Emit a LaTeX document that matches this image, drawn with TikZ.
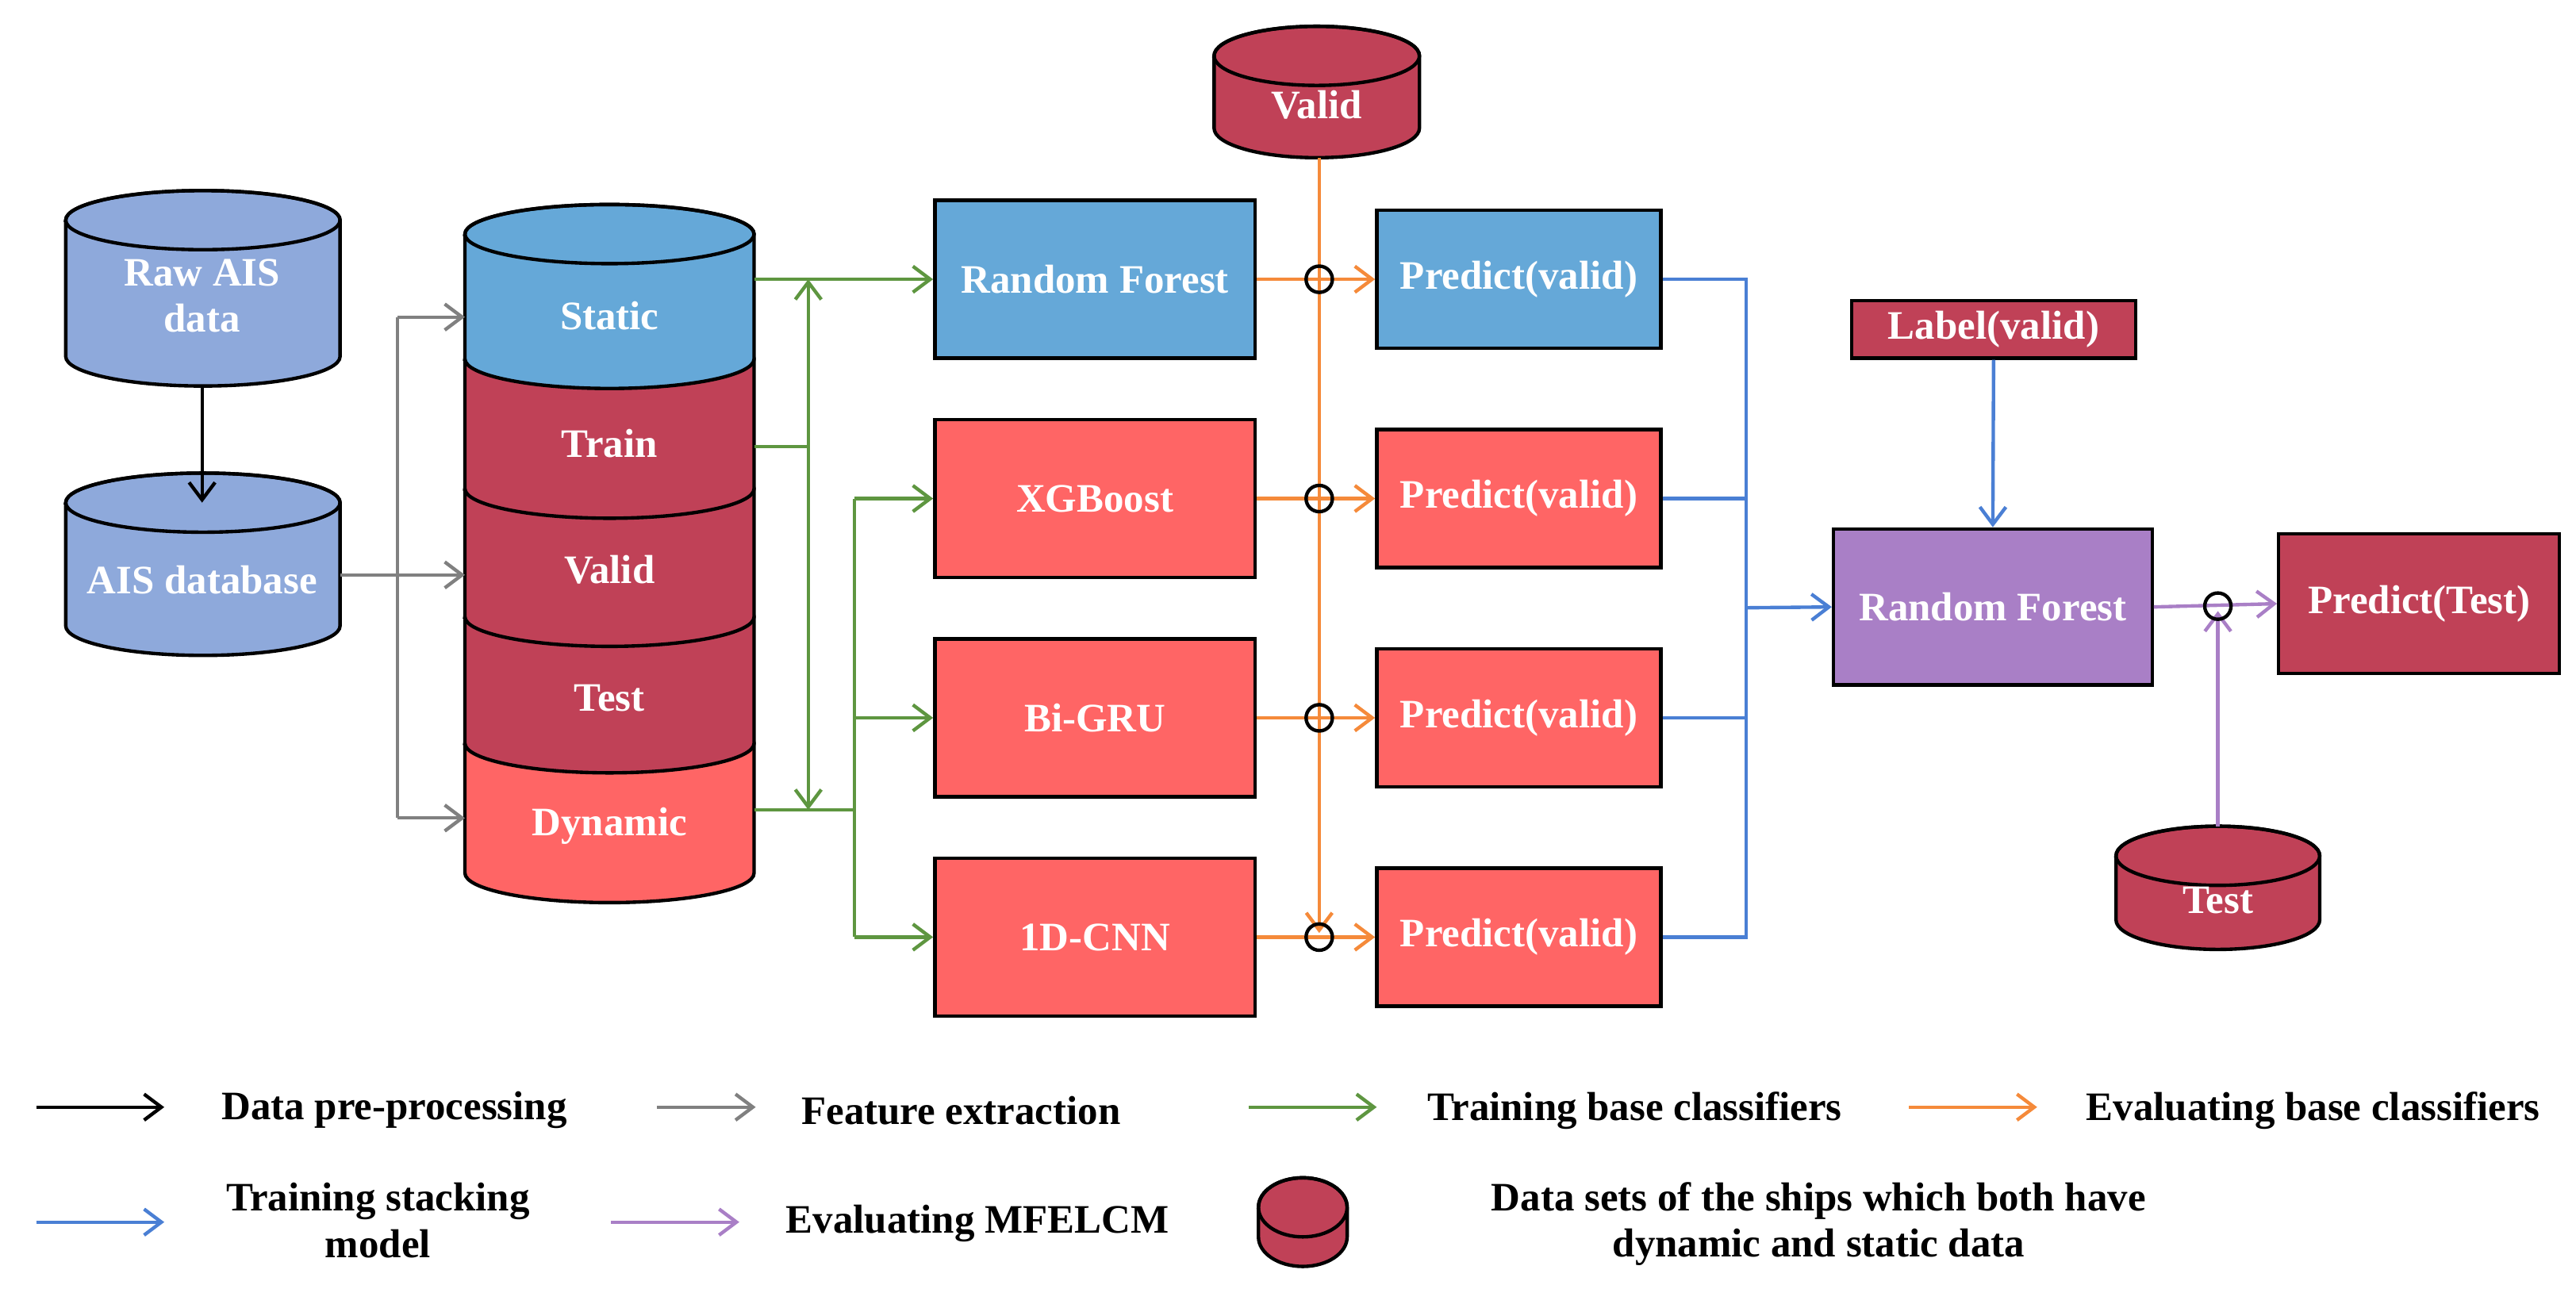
\documentclass[tikz,border=0pt]{standalone}
\usepackage{fontspec}
\setmainfont{Liberation Serif}
\usetikzlibrary{arrows.meta}
\definecolor{lblue}{HTML}{8EA9DB}
\definecolor{sblue}{HTML}{65A8D8}
\definecolor{dred}{HTML}{C04157}
\definecolor{lred}{HTML}{FF6565}
\definecolor{purp}{HTML}{A97FC6}
\definecolor{orng}{HTML}{F58A3A}
\definecolor{grn}{HTML}{5E9640}
\definecolor{blu}{HTML}{4A7FD4}
\definecolor{gry}{HTML}{808080}
\newcommand\mycyl[6]{% xl xr ytop ybot fill topellipse?
  \pgfmathsetmacro\rx{(#2-#1)/2*0.02}
  \fill[#5,draw=black,line width=1.2pt] (#1,#3) -- (#1,#4) arc[start angle=180,end angle=360,x radius=\rx cm,y radius=0.36cm] -- (#2,#3) arc[start angle=0,end angle=180,x radius=\rx cm,y radius=0.36cm] -- cycle;
  \ifnum#6=1 \draw[line width=1.2pt] ({(#1+#2)/2},#3) ellipse[x radius=\rx cm,y radius=0.36cm];\fi
}
\begin{document}
\begin{tikzpicture}[x=0.02cm,y=-0.02cm,
  every node/.style={font=\bfseries\fontsize{14}{16}\selectfont},
  wt/.style={text=white,align=center},
  box/.style={draw=black,line width=1.2pt,text=white,minimum width=3.9cm,minimum height=1.92cm,inner sep=0},
  pbox/.style={draw=black,line width=1.2pt,text=white,minimum width=3.46cm,minimum height=1.68cm,inner sep=0},
  ln/.style={line width=1.2pt},
  ar/.style={line width=1.2pt,-{Straight Barb[length=6pt,width=9pt]}},
  ar2/.style={line width=1.2pt,{Straight Barb[length=6pt,width=9pt]}-{Straight Barb[length=6pt,width=9pt]}},
  cir/.style={draw=black,line width=1.2pt,circle,minimum size=0.32cm,inner sep=0}]
\useasboundingbox (0,0) rectangle (1568,796);
% left cylinders
\mycyl{40}{207}{134}{217}{lblue}{1}
\node[wt] (raw) at (123,180) {Raw AIS\\data};
\mycyl{40}{207}{306}{381}{lblue}{1}
\node[wt] (db) at (123,353) {AIS database};
\coordinate (rawb) at (123,217);
\coordinate (dbt) at (123,306);
\draw[ar] (rawb) ++(0,18) -- (dbt);
% stacked cylinder
\mycyl{283}{459}{452.5}{531.5}{lred}{0}
\mycyl{283}{459}{375.5}{452.5}{dred}{0}
\mycyl{283}{459}{297.5}{375.5}{dred}{0}
\mycyl{283}{459}{218.5}{297.5}{dred}{0}
\mycyl{283}{459}{142.5}{218.5}{sblue}{1}
\node[wt] (st) at (371,192) {Static};
\node[wt] (tr) at (371,270) {Train};
\node[wt] (va) at (371,347) {Valid};
\node[wt] (te) at (371,425) {Test};
\node[wt] (dy) at (371,503) {Dynamic};
% gray
\coordinate (g0) at (207,350);
\draw[gry,ln] (242,193) -- (242,498);
\draw[gry,ln] (g0) -- (242,350);
\draw[gry,ar] (242,193) -- (283,193);
\draw[gry,ar] (242,350) -- (283,350);
\draw[gry,ar] (242,498) -- (283,498);
% model boxes
\node[box,fill=sblue] (rf) at (666.5,170) {Random Forest};
\node[box,fill=lred] (xg) at (666.5,303.5) {XGBoost};
\node[box,fill=lred] (gru) at (666.5,437) {Bi-GRU};
\node[box,fill=lred] (cnn) at (666.5,570.5) {1D-CNN};
\node[pbox,fill=sblue] (p1) at (924.5,170) {Predict(valid)};
\node[pbox,fill=lred] (p2) at (924.5,303.5) {Predict(valid)};
\node[pbox,fill=lred] (p3) at (924.5,437) {Predict(valid)};
\node[pbox,fill=lred] (p4) at (924.5,570.5) {Predict(valid)};
% green
\draw[grn,ar] (459,170) -- (rf.west);
\draw[grn,ln] (459,272) -- (492,272);
\draw[grn,ar2] (492,170) -- (492,493);
\draw[grn,ln] (459,493) -- (520,493);
\draw[grn,ln] (520,303.5) -- (520,570.5);
\draw[grn,ar] (520,303.5) -- (xg.west);
\draw[grn,ar] (520,437) -- (gru.west);
\draw[grn,ar] (520,570.5) -- (cnn.west);
% valid cylinder + orange
\mycyl{739}{864}{34}{78}{dred}{1}
\node[wt] (vv) at (801.5,64) {Valid};
\draw[orng,ar] (803,96) -- (803,568);
\draw[orng,ar] (rf.east) -- (p1.west);
\draw[orng,ar] (xg.east) -- (p2.west);
\draw[orng,ar] (gru.east) -- (p3.west);
\draw[orng,ar] (cnn.east) -- (p4.west);
\foreach \yy/\nm in {170/c1,303.5/c2,437/c3,570.5/c4} \node[cir] (\nm) at (803,\yy) {};
% blue
\node[draw=black,line width=1.2pt,fill=dred,text=white,minimum width=3.46cm,minimum height=0.7cm,inner sep=0] (lab) at (1213.5,200.5) {Label(valid)};
\node[draw=black,line width=1.2pt,fill=purp,text=white,minimum width=3.88cm,minimum height=1.9cm,inner sep=0] (rf2) at (1213,369.5) {Random Forest};
\node[draw=black,line width=1.2pt,fill=dred,text=white,minimum width=3.42cm,minimum height=1.7cm,inner sep=0] (pt) at (1472.5,367.5) {Predict(Test)};
\draw[blu,ln] (p1.east) -- (1063,170) -- (1063,570.5) -- (p4.east);
\draw[blu,ln] (p2.east) -- (1063,303.5);
\draw[blu,ln] (p3.east) -- (1063,437);
\draw[blu,ar] (1063,370) -- (rf2.west);
\draw[blu,ar] (lab.south) -- (rf2.north);
% purple
\mycyl{1288}{1412}{521}{560}{dred}{1}
\node[wt] (tt) at (1350,548) {Test};
\draw[purp,ar] (rf2.east) -- (pt.west);
\draw[purp,ar] (1350,503) -- (1350,372);
\node[cir] (c5) at (1350,369) {};
% legend
\coordinate (l1a) at (22,674); \coordinate (l1b) at (100,674);
\draw[black,ar] (l1a) -- (l1b); \node (t1) at (240,676) {Data pre-processing};
\coordinate (l2a) at (400,674); \coordinate (l2b) at (460,674);
\draw[gry,ar] (l2a) -- (l2b); \node (t2) at (585,676) {Feature extraction};
\coordinate (l3a) at (760,674); \coordinate (l3b) at (838,674);
\draw[grn,ar] (l3a) -- (l3b); \node (t3) at (995,676) {Training base classifiers};
\coordinate (l4a) at (1162,674); \coordinate (l4b) at (1240,674);
\draw[orng,ar] (l4a) -- (l4b); \node (t4) at (1408,676) {Evaluating base classifiers};
\coordinate (l5a) at (22,744); \coordinate (l5b) at (100,744);
\draw[blu,ar] (l5a) -- (l5b); \node[align=center] (t5) at (230,743) {Training stacking\\model};
\coordinate (l6a) at (372,744); \coordinate (l6b) at (450,744);
\draw[purp,ar] (l6a) -- (l6b); \node (t6) at (595,745) {Evaluating MFELCM};
\mycyl{766}{820}{735}{753}{dred}{1}
\node[align=center] (t7) at (1107,745) {Data sets of the ships which both have\\dynamic and static data};
\end{tikzpicture}
\end{document}
